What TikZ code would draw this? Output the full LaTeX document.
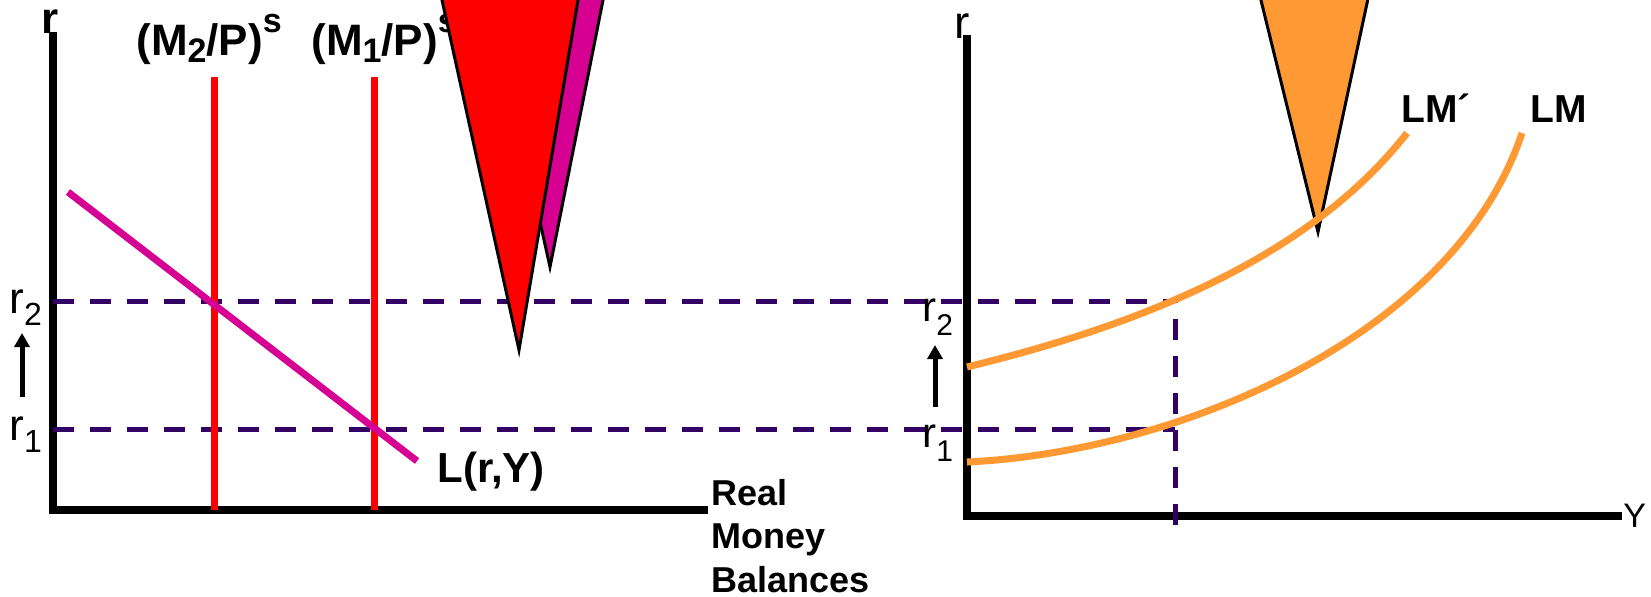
\documentclass[tikz,border=0pt]{standalone}
\usepackage{fontspec}
\setmainfont{Liberation Sans}
\usetikzlibrary{arrows.meta}

\definecolor{lmorange}{RGB}{255,153,51}
\definecolor{demandmag}{RGB}{214,0,147}
\definecolor{guidepurple}{RGB}{51,0,102}

% lowered and raised parts of the labels
\newcommand{\lowpart}[3]{\raisebox{-#1}{\fontsize{#2}{#2}\selectfont #3}}
\newcommand{\highpart}[3]{\raisebox{#1}{\fontsize{#2}{#2}\selectfont #3}}

\begin{document}
\begin{tikzpicture}[x=0.5pt, y=-0.5pt,
    axis/.style={line width=3.75pt, black, line join=miter},
    supply/.style={line width=3.5pt, red},
    demand/.style={line width=3.5pt, demandmag},
    lmcurve/.style={line width=3.5pt, lmorange},
    guide/.style={line width=2.5pt, guidepurple, dash pattern=on 10.5pt off 8pt},
    rise/.style={line width=2.5pt, -{Triangle[length=7pt, width=7.5pt]}},
    pointer/.style={draw=black, line width=1.5pt, line join=miter},
    lab/.style={inner sep=0pt, anchor=base west},
    boldlab/.style={lab, font=\fontsize{22}{26}\selectfont\bfseries}
]
\useasboundingbox (0,0) rectangle (1651,596);

% Axes
\coordinate (ytopL) at (53,32);
\coordinate (origL) at (53,510);
\coordinate (xendL) at (708,510);
\coordinate (ytopR) at (967,35);
\coordinate (origR) at (967,516);
\coordinate (xendR) at (1622,516);
\draw[axis] (ytopL) -- (origL) -- (xendL);
\draw[axis] (ytopR) -- (origR) -- (xendR);

% Interest rate levels
\coordinate (rtwoL) at (53,301);
\coordinate (rtwoR) at (1175,301);
\coordinate (roneL) at (53,429);
\coordinate (roneR) at (1175,429);
\coordinate (ybot) at (1175,525);
\draw[guide] (rtwoL) -- (rtwoR);
\draw[guide] (roneL) -- (roneR);
\draw[guide] (ybot) -- (rtwoR);

% Money supply and demand
\coordinate (mtwotop) at (214,77);
\coordinate (mtwobot) at (214,510);
\coordinate (monetop) at (374,77);
\coordinate (monebot) at (374,510);
\coordinate (dstart) at (68,192);
\coordinate (dend) at (417,461);
\draw[supply] (mtwotop) -- (mtwobot);
\draw[supply] (monetop) -- (monebot);
\draw[demand] (dstart) -- (dend);

% Labels, left panel
\node[boldlab] (ylabL) at (41,33) {r};
\node[boldlab] (mtwolab) at (136,55) {(M\lowpart{3.5pt}{17}{2}/P)\highpart{11.5pt}{17}{s}};
\node[boldlab] (monelab) at (311,55) {(M\lowpart{3.5pt}{17}{1}/P)\highpart{11.5pt}{17}{s}};
\node[boldlab, font=\fontsize{21}{25}\selectfont\bfseries] (demlab) at (437,482) {L(r,Y)};
\node[lab, font=\fontsize{18}{21.75}\selectfont\bfseries, align=left] (xlabL) at (711,592) {Real\\Money\\Balances};
\node[lab, font=\fontsize{22}{26}\selectfont] (rtwolabL) at (9,313) {r\lowpart{6pt}{16}{2}};
\node[lab, font=\fontsize{22}{26}\selectfont] (ronelabL) at (9,440) {r\lowpart{6pt}{16}{1}};
\coordinate (arrLlow) at (22,397);
\coordinate (arrLhigh) at (22,333);
\draw[rise] (arrLlow) -- (arrLhigh);

% Labels, right panel
\node[lab, font=\fontsize{23}{27}\selectfont] (ylabR) at (954,38) {r};
\node[lab, font=\fontsize{17}{20}\selectfont] (xlabR) at (1623,527) {Y};
\node[lab, font=\fontsize{21}{25}\selectfont] (rtwolabR) at (922,321) {r\lowpart{7pt}{15}{2}};
\node[lab, font=\fontsize{21}{25}\selectfont] (ronelabR) at (922,447) {r\lowpart{7pt}{15}{1}};
\coordinate (arrRlow) at (935,407);
\coordinate (arrRhigh) at (935,345);
\draw[rise] (arrRlow) -- (arrRhigh);

% Pointers
\begin{scope}
\clip (0,0) rectangle (1651,596);
\filldraw[pointer, fill=demandmag] (486.6,-20) -- (607,-20) -- (550,267) -- cycle;
\filldraw[pointer, fill=red] (437.6,-20) -- (581.4,-20) -- (519,350) -- cycle;
\filldraw[pointer, fill=lmorange] (1256,-20) -- (1372,-20) -- (1318,232) -- cycle;
\end{scope}

% LM curves
\coordinate (lmpstart) at (967,367);
\coordinate (lmpend) at (1407,133);
\coordinate (lmstart) at (967,462);
\coordinate (lmend) at (1522,133);
\draw[lmcurve] (lmpstart) .. controls (1110,332) and (1300,270) .. (lmpend);
\draw[lmcurve] (lmstart) .. controls (1180,452) and (1455,335) .. (lmend);
\node[boldlab, font=\fontsize{19.5}{23}\selectfont\bfseries] (lmplab) at (1401,122) {LM´};
\node[boldlab, font=\fontsize{19.5}{23}\selectfont\bfseries] (lmlab) at (1530,122) {LM};

\end{tikzpicture}
\end{document}
